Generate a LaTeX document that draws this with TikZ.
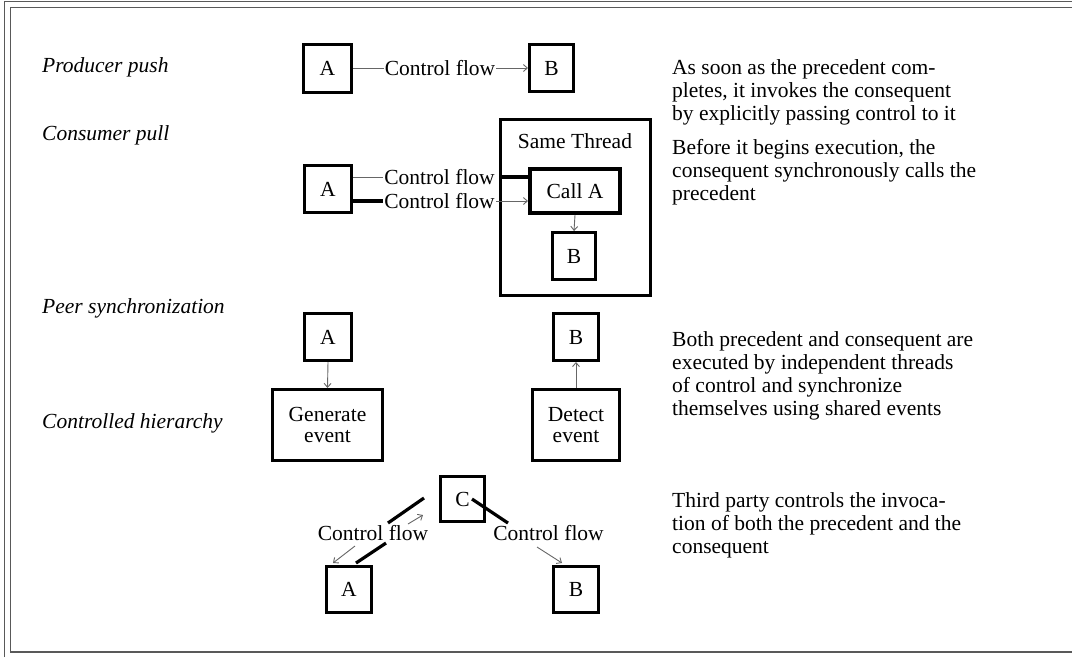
\documentclass[tikz,border=0pt]{standalone}
\usepackage{fontspec}
\setmainfont{Liberation Serif}
\usetikzlibrary{arrows.meta}
\begin{document}
\begin{tikzpicture}[x=1pt,y=-1pt,
  every node/.style={font=\fontsize{21.5}{23}\selectfont, inner sep=0pt},
  box/.style 2 args={draw=black, line width=3.4pt, minimum width=#1, minimum height=#2, align=center},
  flowtext/.style={inner xsep=1pt},
  rowname/.style={anchor=base west, font=\fontsize{21.5}{23}\selectfont\itshape},
  note/.style={anchor=north west, align=left},
  thinline/.style={draw=black!60, line width=0.9pt},
  flow/.style={thinline, -{Straight Barb[length=4pt,width=7pt]}},
  thickline/.style={draw=black, line width=3.2pt},
  frame/.style={draw=black!65, line width=1.5pt}
]
\useasboundingbox (0,0) rectangle (1072,657);

% double page frame
\draw[frame] (4.5,657) -- (4.5,1.5) -- (1072,1.5);
\draw[frame] (1072,7.5) -- (10.5,7.5) -- (10.5,652) -- (1072,652);

% row titles
\node[rowname] (t1) at (42,72) {Producer push};
\node[rowname] (t2) at (42,140) {Consumer pull};
\node[rowname] (t3) at (42,313) {Peer synchronization};
\node[rowname] (t4) at (42,428) {Controlled hierarchy};

% producer push
\node[box={47.6}{47.6}] (pA) at (327.5,68.5) {A};
\node[box={43.6}{46.6}] (pB) at (551.5,68) {B};
\node[flowtext] (pF) at (440,68) {Control flow};
\draw[thinline] (pA.east |- pF) -- (pF.west);
\draw[flow] (pF.east) -- (pB.west |- pF);

% consumer pull
\node[box={47}{47}] (cA) at (328,189) {A};
\node[draw=black, line width=3pt, minimum width=150, minimum height=176] (ST) at (575.5,207.5) {};
\node (STt) at (575,141) {Same Thread};
\node[box={90}{44}, line width=4pt] (call) at (575,191) {Call A};
\node[box={42.6}{46.6}] (cB) at (574,256) {B};
\node[flowtext] (cF1) at (439.5,177) {Control flow};
\node[flowtext] (cF2) at (439.5,201) {Control flow};
\draw[thinline] (cA.east |- cF1) -- (cF1.west);
\draw[thickline] (ST.west |- cF1) -- (call.west |- cF1);
\draw[thickline] (cA.east |- cF2) -- (cF2.west);
\draw[flow] (cF2.east) -- (call.west |- cF2);
\draw[flow] (call.south) -- (cB.north);

% peer synchronization
\node[box={46.6}{46.6}] (sA) at (328,337) {A};
\node[box={109.6}{70.6}] (gen) at (327.5,425) {Generate\\[-2pt]event};
\node[box={44.6}{46.6}] (sB) at (576,337) {B};
\node[box={86.6}{70.6}] (det) at (576,425) {Detect\\[-2pt]event};
\draw[flow] (sA.south) -- (gen.north);
\draw[flow] (det.north) -- (sB.south);

% controlled hierarchy
\node[box={43.6}{44.6}] (hC) at (462.5,499) {C};
\node[box={44.6}{45.6}] (hA) at (349,589.5) {A};
\node[box={44.6}{45.6}] (hB) at (576,589.5) {B};
\node[flowtext] (hF1) at (373,533) {Control flow};
\node[flowtext] (hF2) at (548.5,533) {Control flow};
\coordinate (l1) at (424,498);
\coordinate (l2) at (388,523);
\coordinate (l3) at (408,524);
\coordinate (l4) at (423,515);
\coordinate (l5) at (355,546);
\coordinate (l6) at (333,563);
\coordinate (l7) at (386,543);
\coordinate (l8) at (356,563);
\coordinate (r1) at (472,499);
\coordinate (r2) at (508,523);
\coordinate (r3) at (537,547);
\coordinate (r4) at (562,563);
\draw[thickline] (l1) -- (l2);
\draw[flow] (l3) -- (l4);
\draw[flow] (l5) -- (l6);
\draw[thickline] (l7) -- (l8);
\draw[thickline] (r1) -- (r2);
\draw[flow] (r3) -- (r4);

% descriptions
\node[note] (d1) at (672,59) {As soon as the precedent com-\\pletes, it invokes the consequent\\by explicitly passing control to it};
\node[note] (d2) at (672,139) {Before it begins execution, the\\consequent synchronously calls the\\precedent};
\node[note] (d3) at (672,331) {Both precedent and consequent are\\executed by independent threads\\of control and synchronize\\themselves using shared events};
\node[note] (d4) at (672,492) {Third party controls the invoca-\\tion of both the precedent and the\\consequent};
\end{tikzpicture}
\end{document}
